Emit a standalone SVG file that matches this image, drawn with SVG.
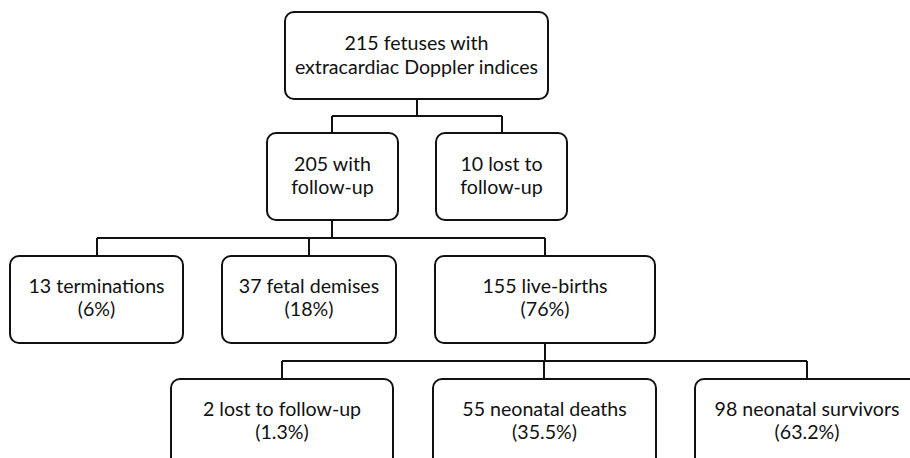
<svg xmlns="http://www.w3.org/2000/svg" width="910" height="458" viewBox="0 0 910 458">
<style>
.box{fill:#fff;stroke:#111;stroke-width:2}
.lbl{font-family:Lato,"Open Sans","Liberation Sans",sans-serif;font-size:19.6px;fill:#111;text-anchor:middle}
.con{fill:none;stroke:#111;stroke-width:2}
</style>
<rect width="910" height="458" fill="#fff"/>
<g id="connectors">
<path class="con" d="M417 99V116M332 116H502M332 116V133M502 116V133"/>
<path class="con" d="M332 220V238M97 238H545M97 238V256M309 238V256M545 238V256"/>
<path class="con" d="M545 343V361M282 361H807M282 361V379M544 361V379M807 361V379"/>
</g>
<g id="n-root"><rect class="box" x="285" y="12" width="263" height="87" rx="9"/>
<text class="lbl" x="416.5" y="50">215 fetuses with</text><text class="lbl" x="416.5" y="74">extracardiac Doppler indices</text></g>
<g id="n-followup"><rect class="box" x="267" y="133" width="131" height="87" rx="9"/>
<text class="lbl" x="332.5" y="171">205 with</text><text class="lbl" x="332.5" y="194">follow-up</text></g>
<g id="n-lost10"><rect class="box" x="436" y="133" width="131" height="87" rx="9"/>
<text class="lbl" x="501.5" y="171">10 lost to</text><text class="lbl" x="501.5" y="194">follow-up</text></g>
<g id="n-term"><rect class="box" x="10" y="256" width="173" height="87" rx="9"/>
<text class="lbl" x="96.5" y="293">13 terminations</text><text class="lbl" x="96.5" y="316">(6%)</text></g>
<g id="n-demise"><rect class="box" x="222" y="256" width="174" height="87" rx="9"/>
<text class="lbl" x="309" y="293">37 fetal demises</text><text class="lbl" x="309" y="316">(18%)</text></g>
<g id="n-live"><rect class="box" x="435" y="256" width="220" height="87" rx="9"/>
<text class="lbl" x="545" y="293">155 live-births</text><text class="lbl" x="545" y="316">(76%)</text></g>
<g id="n-lost2"><rect class="box" x="171" y="379" width="222" height="100" rx="9"/>
<text class="lbl" x="282" y="416">2 lost to follow-up</text><text class="lbl" x="282" y="439">(1.3%)</text></g>
<g id="n-deaths"><rect class="box" x="433" y="379" width="223" height="100" rx="9"/>
<text class="lbl" x="544.5" y="416">55 neonatal deaths</text><text class="lbl" x="544.5" y="439">(35.5%)</text></g>
<g id="n-surv"><rect class="box" x="695" y="379" width="224" height="100" rx="9"/>
<text class="lbl" x="807" y="416">98 neonatal survivors</text><text class="lbl" x="807" y="439">(63.2%)</text></g>
</svg>
